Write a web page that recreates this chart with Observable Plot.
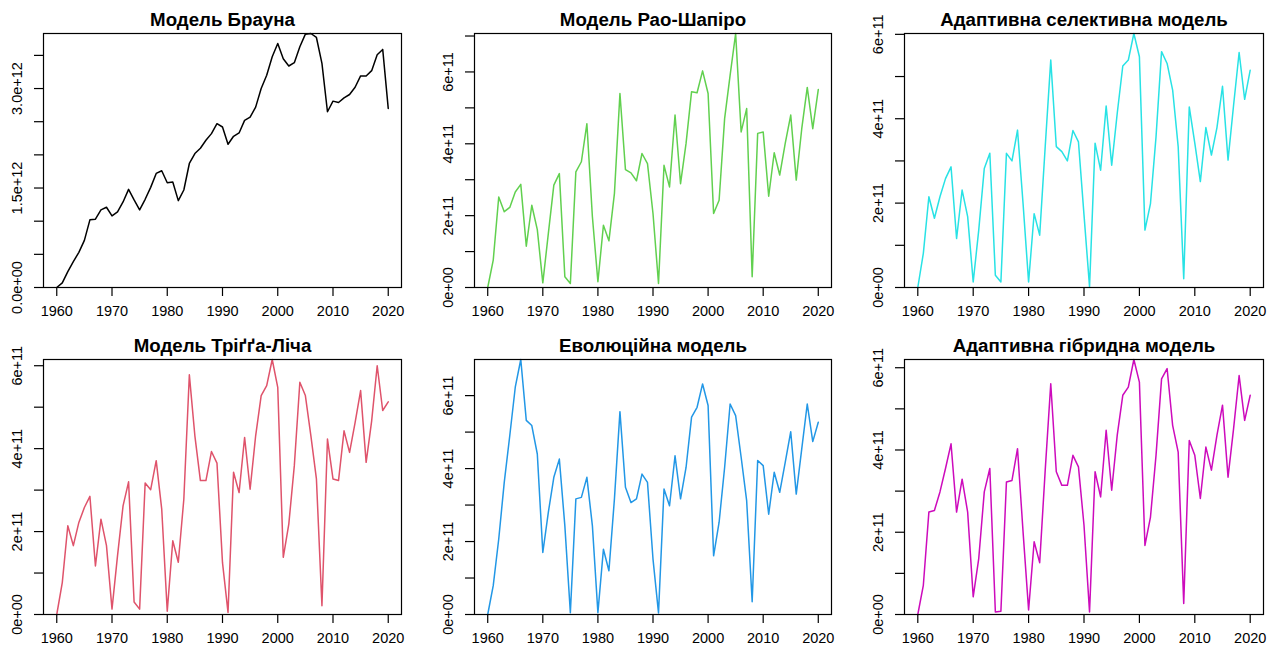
<!DOCTYPE html>
<html><head><meta charset="utf-8">
<script src="https://cdn.jsdelivr.net/npm/d3@7"></script>
<script src="https://cdn.jsdelivr.net/npm/@observablehq/plot@0.6"></script>
<style>
body{margin:0;background:#fff;}
#wrap{position:relative;width:1282px;height:655px;overflow:hidden;background:#fff;}
#wrap svg{position:absolute;}
</style></head><body><div id="wrap"></div>
<script>
const years = [1960,1961,1962,1963,1964,1965,1966,1967,1968,1969,1970,1971,1972,1973,1974,1975,1976,1977,1978,1979,1980,1981,1982,1983,1984,1985,1986,1987,1988,1989,1990,1991,1992,1993,1994,1995,1996,1997,1998,1999,2000,2001,2002,2003,2004,2005,2006,2007,2008,2009,2010,2011,2012,2013,2014,2015,2016,2017,2018,2019,2020];

// Brown model, units of 1e12
const brown = [0.00,0.07,0.24,0.39,0.53,0.71,1.02,1.03,1.17,1.21,
1.08,1.14,1.29,1.48,1.32,1.17,1.33,1.51,1.72,1.76,
1.58,1.59,1.31,1.47,1.87,2.02,2.10,2.22,2.32,2.47,
2.42,2.16,2.28,2.33,2.52,2.57,2.72,3.00,3.20,3.48,
3.68,3.45,3.34,3.39,3.63,3.82,3.83,3.77,3.38,2.65,
2.81,2.79,2.86,2.91,3.02,3.19,3.19,3.27,3.51,3.59,
2.70];
// other models, units of 1e11
const raoShapiro = [0,0.76,2.52,2.11,2.23,2.66,2.87,1.15,2.29,1.61,
0.13,1.50,2.85,3.17,0.30,0.11,3.22,3.50,4.56,1.97,
0.16,1.73,1.30,2.62,5.40,3.28,3.19,2.97,3.73,3.45,
2.06,0.11,3.40,2.80,4.80,2.89,4.01,5.45,5.42,6.03,
5.40,2.06,2.43,4.70,5.91,7.07,4.33,4.98,0.30,4.29,
4.33,2.54,3.75,3.13,4.01,4.80,2.99,4.42,5.57,4.42,
5.51];
const adaptiveSelective = [0,0.81,2.15,1.64,2.15,2.58,2.86,1.16,2.31,1.68,
0.13,1.36,2.82,3.18,0.29,0.13,3.18,3.00,3.73,1.99,
0.13,1.75,1.24,3.34,5.39,3.34,3.22,3.00,3.72,3.45,
1.72,0.02,3.42,2.78,4.30,2.90,4.13,5.25,5.39,6.02,
5.47,1.36,1.99,3.57,5.59,5.31,4.68,3.34,0.21,4.28,
3.42,2.51,3.79,3.14,3.79,4.77,3.02,4.32,5.57,4.46,
5.15];
const triggLeach = [0,0.77,2.14,1.66,2.22,2.58,2.85,1.17,2.30,1.66,
0.13,1.42,2.62,3.20,0.30,0.13,3.17,3.01,3.71,2.54,
0.08,1.78,1.26,2.78,5.78,4.31,3.23,3.23,3.93,3.65,
1.25,0.05,3.43,2.94,4.27,3.02,4.31,5.28,5.52,6.15,
5.48,1.38,2.18,3.59,5.60,5.28,4.31,3.27,0.21,4.23,
3.27,3.23,4.43,3.91,4.63,5.40,3.67,4.67,6.00,4.92,
5.13];
const evolutionary = [0,0.79,2.07,3.62,4.90,6.23,6.99,5.32,5.18,4.40,
1.70,2.80,3.76,4.26,2.43,0.05,3.17,3.21,3.76,2.43,
0.05,1.79,1.20,3.17,5.56,3.49,3.07,3.17,3.85,3.62,
1.52,0.04,3.44,2.98,4.35,3.17,4.03,5.41,5.68,6.32,
5.73,1.61,2.53,4.03,5.77,5.45,4.31,3.12,0.35,4.22,
4.08,2.75,3.90,3.35,4.17,5.01,3.30,4.54,5.77,4.74,
5.27];
const adaptiveHybrid = [0,0.71,2.49,2.53,2.98,3.55,4.15,2.49,3.29,2.49,
0.43,1.36,2.98,3.55,0.06,0.08,3.22,3.26,4.03,2.01,
0.11,1.77,1.26,3.51,5.61,3.47,3.14,3.14,3.87,3.59,
2.17,0.06,3.47,2.86,4.48,3.02,4.36,5.33,5.53,6.20,
5.65,1.68,2.37,3.87,5.73,5.98,4.60,3.95,0.27,4.23,
3.87,2.82,4.07,3.51,4.36,5.09,3.34,4.52,5.81,4.72,
5.33];

const titles = ["Модель Брауна","Модель Рао-Шапіро","Адаптивна селективна модель","Модель Тріґґа-Ліча","Еволюційна модель","Адаптивна гібридна модель"];
const colors = ["#000000","#61D04F","#28E2E5","#DF536B","#2297E6","#CD0BBC"];

const xTicks = [1960,1970,1980,1990,2000,2010,2020];
const brownTicks = [0,0.5,1,1.5,2,2.5,3,3.5];
const brownLabelTicks = [0,1.5,3];
const brownLabels = ["0.0e+00","1.5e+12","3.0e+12"];
const modelTicks = [0,1,2,3,4,5,6,7];
const modelLabelTicks = [0,2,4,6];
const modelLabels = ["0e+00","2e+11","4e+11","6e+11"];

const series = [brown, raoShapiro, adaptiveSelective, triggLeach, evolutionary, adaptiveHybrid];

// layout: [left, top, width, height, mL, mR, mT, mB]
const layout = [
  [0,0,427,327,43,26,33,40],
  [427,0,427,327,47,23,33,40],
  [854,0,428,327,50,19,33,40],
  [0,327,427,328,43,26,32,41],
  [427,327,427,328,47,23,32,41],
  [854,327,428,328,50,19,32,41]
];

const wrap = document.getElementById("wrap");
const font = "'Liberation Sans', Arial, Helvetica, sans-serif";

series.forEach((vals, k) => {
  const isBrown = k === 0;
  const data = years.map((yr, i) => ({year: yr, value: vals[i]}));
  const ext = d3.extent(vals);
  const ticks = (isBrown ? brownTicks : modelTicks).filter(t => t >= ext[0] - 1e-9 && t <= ext[1] + 1e-9);
  const lt = isBrown ? brownLabelTicks : modelLabelTicks;
  const ll = isBrown ? brownLabels : modelLabels;
  const labelData = lt.map((v, i) => ({v, t: ll[i]})).filter(d => d.v <= ext[1]);
  const [left, top, w, h, mL, mR, mT, mB] = layout[k];
  const svg = Plot.plot({
    width: w, height: h,
    marginLeft: mL, marginRight: mR, marginTop: mT, marginBottom: mB,
    style: {fontFamily: font, fontSize: "14.5px", color: "#000", background: "transparent", overflow: "visible"},
    x: {domain: [1957.6, 2022.4], label: null},
    y: {domain: ext, label: null},
    marks: [
      Plot.line(data, {x: "year", y: "value", stroke: colors[k], strokeWidth: 1.5}),
      Plot.frame({stroke: "#000", strokeWidth: 1.2}),
      Plot.axisX(xTicks, {tickSize: 9, tickPadding: 9, fontSize: 14.5, label: null, tickFormat: d => String(d), stroke: "#000", strokeWidth: 1.2}),
      Plot.axisY(ticks, {tickSize: 9, tickFormat: () => "", label: null, stroke: "#000", strokeWidth: 1.2}),
      Plot.text(labelData, {y: "v", text: "t", frameAnchor: "left", dx: -26, rotate: -90, textAnchor: "middle", lineAnchor: "middle", fontSize: 14.5, fill: "#000"}),
      Plot.text([titles[k]], {text: d => d, frameAnchor: "top", dy: -8, lineAnchor: "bottom", fontWeight: "bold", fontSize: 18.7, fill: "#000"})
    ]
  });
  svg.style.left = left + "px";
  svg.style.top = top + "px";
  wrap.appendChild(svg);
});
</script></body></html>
